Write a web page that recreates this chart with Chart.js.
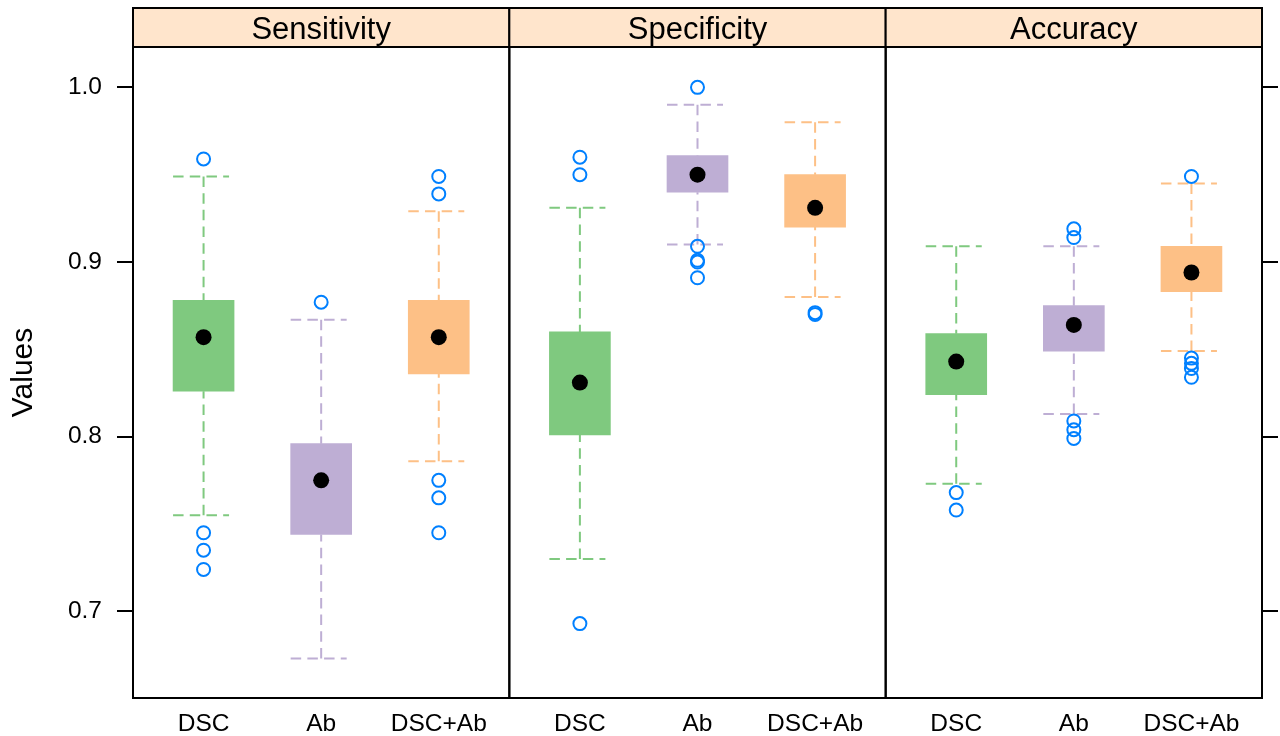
<!DOCTYPE html>
<html>
<head>
<meta charset="utf-8">
<script src="https://cdn.jsdelivr.net/npm/chart.js@4.4.1/dist/chart.umd.min.js"></script>
<style>
  body { margin: 0; background: #fff; }
  #chart { display: block; }
</style>
</head>
<body>
<canvas id="chart" width="1280" height="736"></canvas>
<script>
const panels = ['Sensitivity', 'Specificity', 'Accuracy'];
const groups = ['DSC', 'Ab', 'DSC+Ab'];
const yTicks = [0.7, 0.8, 0.9, 1.0];

// [lower whisker, Q1, median, Q3, upper whisker] for DSC, Ab, DSC+Ab
const sensStats = [
    [0.755, 0.826, 0.857, 0.878, 0.949],
    [0.673, 0.744, 0.775, 0.796, 0.867],
    [0.786, 0.836, 0.857, 0.878, 0.929]
];
const specStats = [
    [0.730, 0.801, 0.831, 0.860, 0.931],
    [0.910, 0.940, 0.950, 0.961, 0.990],
    [0.880, 0.920, 0.931, 0.950, 0.980]
];
const accStats = [
    [0.773, 0.824, 0.843, 0.859, 0.909],
    [0.813, 0.849, 0.864, 0.875, 0.909],
    [0.849, 0.883, 0.894, 0.909, 0.945]
];

// outliers
const sensOutliers = [
    [0.959, 0.745, 0.735, 0.724],
    [0.877],
    [0.949, 0.939, 0.775, 0.765, 0.745]
];
const specOutliers = [
    [0.960, 0.950, 0.693],
    [1.000, 0.909, 0.901, 0.900, 0.891],
    [0.871, 0.870]
];
const accOutliers = [
    [0.768, 0.758],
    [0.919, 0.914, 0.809, 0.804, 0.799],
    [0.949, 0.845, 0.842, 0.839, 0.834]
];

const groupColors = ['#7FC97F', '#BEAED4', '#FDC086'];
const stripColor = '#FFE5CC';
const outlierColor = '#0080FF';
const FONT = "'Liberation Sans', Arial, sans-serif";

const allStats = [sensStats, specStats, accStats];
const allOutliers = [sensOutliers, specOutliers, accOutliers];

// lattice style spacing: each panel spans 3.2 units, groups at 1,2,3 inside it
function groupPos(p, g) { return p * 3.2 + g + 1; }

const xTickPos = [];
const xTickLabels = [];
const boxData = [];
const boxColors = [];
const medianData = [];
const outlierData = [];

panels.forEach((name, p) => {
    groups.forEach((grp, g) => {
        const x = groupPos(p, g);
        const s = allStats[p][g];
        xTickPos.push(x);
        xTickLabels.push(grp);
        boxData.push({ x: x, y: [s[1], s[3]] });
        boxColors.push(groupColors[g]);
        medianData.push({ x: x, y: s[2] });
        allOutliers[p][g].forEach(v => outlierData.push({ x: x, y: v }));
    });
});

const latticePlugin = {
    id: 'lattice',
    beforeDatasetsDraw(chart) {
        const { ctx, scales: { x, y } } = chart;
        ctx.save();
        ctx.lineWidth = 2;
        ctx.setLineDash([10.5, 6.2]);
        panels.forEach((name, p) => {
            groups.forEach((grp, g) => {
                const s = allStats[p][g];
                const cx = x.getPixelForValue(groupPos(p, g));
                ctx.strokeStyle = groupColors[g];
                ctx.beginPath();
                ctx.moveTo(cx, y.getPixelForValue(s[4]));
                ctx.lineTo(cx, y.getPixelForValue(s[3]));
                ctx.moveTo(cx, y.getPixelForValue(s[0]));
                ctx.lineTo(cx, y.getPixelForValue(s[1]));
                ctx.stroke();
                // whisker caps
                [s[0], s[4]].forEach(v => {
                    const py = y.getPixelForValue(v);
                    ctx.beginPath();
                    ctx.moveTo(cx - 30.5, py);
                    ctx.lineTo(cx + 25.5, py);
                    ctx.stroke();
                });
            });
        });
        ctx.restore();
    },
    afterDraw(chart) {
        const { ctx, chartArea, scales: { x } } = chart;
        const stripTop = 8;
        ctx.save();
        ctx.lineWidth = 2;
        ctx.strokeStyle = '#000';
        panels.forEach((name, p) => {
            const left = x.getPixelForValue(p * 3.2 + 0.4);
            const right = x.getPixelForValue(p * 3.2 + 3.6);
            ctx.fillStyle = stripColor;
            ctx.fillRect(left, stripTop, right - left, chartArea.top - stripTop);
            ctx.strokeRect(left, stripTop, right - left, chartArea.top - stripTop);
            ctx.strokeRect(left, chartArea.top, right - left, chartArea.bottom - chartArea.top);
            ctx.fillStyle = '#000';
            ctx.font = '31px ' + FONT;
            ctx.textAlign = 'center';
            ctx.textBaseline = 'alphabetic';
            ctx.fillText(name, (left + right) / 2, 38.5);
        });
        ctx.restore();
    }
};

new Chart(document.getElementById('chart'), {
    type: 'bar',
    data: {
        datasets: [
            {
                type: 'scatter',
                data: outlierData,
                pointRadius: 6.5,
                pointBorderWidth: 2,
                pointBackgroundColor: 'rgba(0,0,0,0)',
                pointBorderColor: outlierColor,
                order: 0
            },
            {
                type: 'scatter',
                data: medianData,
                pointRadius: 8,
                pointBorderWidth: 0,
                pointBackgroundColor: '#000',
                order: 1
            },
            {
                type: 'bar',
                data: boxData,
                backgroundColor: boxColors,
                borderWidth: 0,
                barThickness: 61,
                order: 2
            }
        ]
    },
    options: {
        responsive: false,
        animation: false,
        events: [],
        layout: { padding: { top: 47, left: 0, right: 0, bottom: 0 } },
        plugins: {
            legend: { display: false },
            tooltip: { enabled: false }
        },
        scales: {
            x: {
                type: 'linear',
                min: 0.4,
                max: 10.0,
                offset: false,
                grid: { display: false },
                border: { display: false },
                afterBuildTicks: (scale) => {
                    scale.ticks = xTickPos.map(v => ({ value: v }));
                },
                afterFit: (scale) => { scale.height = 38; },
                ticks: {
                    autoSkip: false,
                    maxRotation: 0,
                    padding: 4,
                    color: '#000',
                    font: { family: FONT, size: 24.5 },
                    callback: (value, index) => xTickLabels[index]
                }
            },
            y: {
                position: 'left',
                min: 0.6504,
                max: 1.0231,
                grid: { drawOnChartArea: false, tickLength: 16, color: '#000', lineWidth: 2 },
                border: { display: false },
                afterBuildTicks: (scale) => {
                    scale.ticks = yTicks.map(v => ({ value: v }));
                },
                afterFit: (scale) => { scale.width = 133; },
                ticks: {
                    padding: 15,
                    color: '#000',
                    font: { family: FONT, size: 24.5 },
                    callback: (value) => value.toFixed(1)
                },
                title: {
                    display: true,
                    text: 'Values',
                    color: '#000',
                    font: { family: FONT, size: 30 },
                    padding: { top: 6, bottom: 0 }
                }
            },
            y2: {
                position: 'right',
                min: 0.6504,
                max: 1.0231,
                grid: { drawOnChartArea: false, tickLength: 16, color: '#000', lineWidth: 2 },
                border: { display: false },
                afterBuildTicks: (scale) => {
                    scale.ticks = yTicks.map(v => ({ value: v }));
                },
                afterFit: (scale) => { scale.width = 18; },
                ticks: { display: false }
            }
        }
    },
    plugins: [latticePlugin]
});
</script>
</body>
</html>
